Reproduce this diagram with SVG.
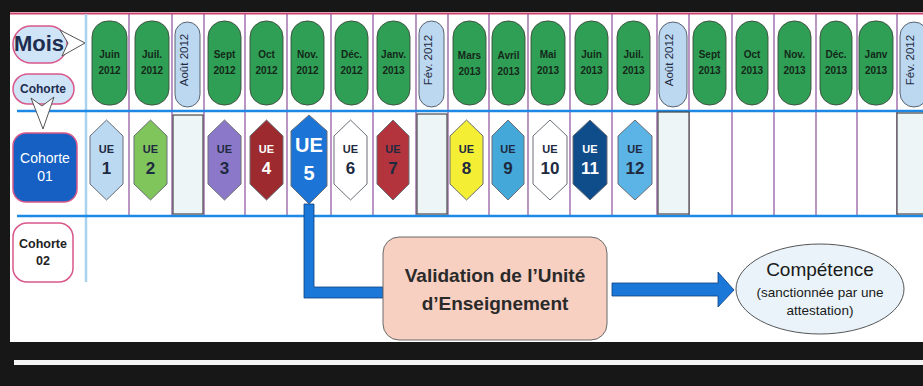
<svg xmlns="http://www.w3.org/2000/svg" width="923" height="386" viewBox="0 0 923 386">
<style>
.pill{fill:#2f9f55;stroke:#3d4a3d;stroke-width:0.9}
.bpill{fill:#bcd8f1;stroke:#4a5260;stroke-width:0.9}
.mt{font-family:"Liberation Sans",Arial,sans-serif;font-weight:bold;font-size:10px;fill:#14281a;text-anchor:middle}
.rt{font-family:"Liberation Sans",Arial,sans-serif;font-size:11.5px;fill:#1e2a40;text-anchor:middle}
.vac{fill:#eef5f7;stroke:#4a4a4a;stroke-width:1.2}
.hex{stroke:#6a6f78;stroke-width:1}
.ue{font-family:"Liberation Sans",Arial,sans-serif;font-weight:bold;font-size:11px;text-anchor:middle;fill:#1e2a40}
.num{font-family:"Liberation Sans",Arial,sans-serif;font-weight:bold;font-size:17px;text-anchor:middle;fill:#1e2a40}
.w{fill:#ffffff}
.big{font-size:20px}
.div{stroke:#8c4f9c;stroke-width:1.2}
.hl{stroke:#1e88e5;stroke-width:2.5}
.lab{fill:#cfe4f6;stroke:#d9578a;stroke-width:1.5}
.blue{fill:#1b78d8;stroke:#0d3f80;stroke-width:0.8}
</style>
<rect x="0" y="0" width="923" height="386" fill="#171717"/>
<rect x="10" y="12" width="913" height="330" fill="#ffffff"/>
<rect x="14" y="360" width="909" height="5" fill="#f4f4f4"/>
<g id="grid">
<line x1="10" y1="13.5" x2="923" y2="13.5" stroke="#c8466e" stroke-width="2"/>
<line x1="86" y1="14" x2="86" y2="282" stroke="#a8d2f0" stroke-width="2.5"/>
<g class="div">
<line x1="129" y1="14" x2="129" y2="216"/><line x1="172" y1="14" x2="172" y2="216"/><line x1="204" y1="14" x2="204" y2="216"/><line x1="245" y1="14" x2="245" y2="216"/><line x1="287" y1="14" x2="287" y2="216"/><line x1="331" y1="14" x2="331" y2="216"/><line x1="373" y1="14" x2="373" y2="216"/><line x1="416" y1="14" x2="416" y2="216"/><line x1="448" y1="14" x2="448" y2="216"/><line x1="489" y1="14" x2="489" y2="216"/><line x1="528" y1="14" x2="528" y2="216"/><line x1="570" y1="14" x2="570" y2="216"/><line x1="612" y1="14" x2="612" y2="216"/><line x1="657" y1="14" x2="657" y2="216"/><line x1="689" y1="14" x2="689" y2="216"/><line x1="732" y1="14" x2="732" y2="216"/><line x1="774" y1="14" x2="774" y2="216"/><line x1="816" y1="14" x2="816" y2="216"/><line x1="857" y1="14" x2="857" y2="216"/><line x1="897" y1="14" x2="897" y2="216"/>
</g>
<line class="hl" x1="17" y1="111" x2="923" y2="111"/>
<line class="hl" x1="17" y1="216" x2="923" y2="216"/>
</g>
<g id="mois">
<rect class="lab" x="13" y="26" width="54" height="37" rx="18"/>
<polygon points="60,30 85,43 62,56 68,43" fill="#ffffff" stroke="#555" stroke-width="1"/>
<text x="39" y="51" font-family="Liberation Sans,Arial,sans-serif" font-weight="bold" font-size="22" fill="#1e2d50" text-anchor="middle">Mois</text>
</g>
<g id="cohorte-label">
<rect class="lab" x="13" y="74" width="61" height="30" rx="15"/>
<polygon points="31,98 42,106 54,97 43,129" fill="#ffffff" stroke="#555" stroke-width="1"/>
<text x="43" y="93" font-family="Liberation Sans,Arial,sans-serif" font-weight="bold" font-size="12" fill="#1e2d50" text-anchor="middle">Cohorte</text>
</g>
<g id="cohorte01">
<rect x="13" y="133" width="64" height="69" rx="13" fill="#1560c2" stroke="#d9578a" stroke-width="1.5"/>
<text x="45" y="163" font-family="Liberation Sans,Arial,sans-serif" font-size="14" fill="#ffffff" text-anchor="middle">Cohorte</text>
<text x="45" y="181" font-family="Liberation Sans,Arial,sans-serif" font-size="14" fill="#ffffff" text-anchor="middle">01</text>
</g>
<g id="cohorte02">
<rect x="13" y="223" width="60" height="59" rx="14" fill="#ffffff" stroke="#d9578a" stroke-width="1.5"/>
<text x="43" y="248" font-family="Liberation Sans,Arial,sans-serif" font-weight="bold" font-size="12.5" fill="#222" text-anchor="middle">Cohorte</text>
<text x="43" y="265" font-family="Liberation Sans,Arial,sans-serif" font-weight="bold" font-size="12.5" fill="#222" text-anchor="middle">02</text>
</g>
<g id="months">
<g id="m-juin2012"><rect class="pill" x="92" y="21" width="35" height="84" rx="16"/><text class="mt" x="109.5" y="58">Juin</text><text class="mt" x="109.5" y="74">2012</text></g>
<g id="m-juil2012"><rect class="pill" x="135" y="21" width="34" height="84" rx="16"/><text class="mt" x="152" y="58">Juil.</text><text class="mt" x="152" y="74">2012</text></g>
<g id="m-aout2012"><rect class="bpill" x="175" y="22" width="25" height="85" rx="12.5"/><text class="rt" x="191.5" y="64" transform="rotate(-90 187.5 64)">Août 2012</text></g>
<g id="m-sept2012"><rect class="pill" x="208" y="21" width="33" height="84" rx="16"/><text class="mt" x="224.5" y="58">Sept</text><text class="mt" x="224.5" y="74">2012</text></g>
<g id="m-oct2012"><rect class="pill" x="250" y="21" width="33" height="84" rx="16"/><text class="mt" x="266.5" y="58">Oct</text><text class="mt" x="266.5" y="74">2012</text></g>
<g id="m-nov2012"><rect class="pill" x="291" y="21" width="33" height="84" rx="16"/><text class="mt" x="307.5" y="58">Nov.</text><text class="mt" x="307.5" y="74">2012</text></g>
<g id="m-dec2012"><rect class="pill" x="335" y="21" width="33" height="84" rx="16"/><text class="mt" x="351.5" y="58">Déc.</text><text class="mt" x="351.5" y="74">2012</text></g>
<g id="m-janv2013"><rect class="pill" x="377" y="21" width="33" height="84" rx="16"/><text class="mt" x="393.5" y="58">Janv.</text><text class="mt" x="393.5" y="74">2013</text></g>
<g id="m-fev2012"><rect class="bpill" x="419" y="21" width="25" height="86" rx="12.5"/><text class="rt" x="435.5" y="64" transform="rotate(-90 431.5 64)">Fév. 2012</text></g>
<g id="m-mars2013"><rect class="pill" x="453" y="21" width="33" height="84" rx="16"/><text class="mt" x="469.5" y="59">Mars</text><text class="mt" x="469.5" y="75">2013</text></g>
<g id="m-avril2013"><rect class="pill" x="492" y="21" width="33" height="84" rx="16"/><text class="mt" x="508.5" y="59">Avril</text><text class="mt" x="508.5" y="75">2013</text></g>
<g id="m-mai2013"><rect class="pill" x="531" y="21" width="34" height="84" rx="16"/><text class="mt" x="548" y="58">Mai</text><text class="mt" x="548" y="74">2013</text></g>
<g id="m-juin2013"><rect class="pill" x="575" y="21" width="33" height="84" rx="16"/><text class="mt" x="591.5" y="58">Juin</text><text class="mt" x="591.5" y="74">2013</text></g>
<g id="m-juil2013"><rect class="pill" x="617" y="21" width="33" height="84" rx="16"/><text class="mt" x="633.5" y="58">Juil.</text><text class="mt" x="633.5" y="74">2013</text></g>
<g id="m-aout2012b"><rect class="bpill" x="659" y="22" width="28" height="85" rx="14"/><text class="rt" x="677" y="64" transform="rotate(-90 673 64)">Août 2012</text></g>
<g id="m-sept2013"><rect class="pill" x="693" y="21" width="33" height="84" rx="16"/><text class="mt" x="709.5" y="58">Sept</text><text class="mt" x="709.5" y="74">2013</text></g>
<g id="m-oct2013"><rect class="pill" x="736" y="21" width="32" height="84" rx="16"/><text class="mt" x="752" y="58">Oct</text><text class="mt" x="752" y="74">2013</text></g>
<g id="m-nov2013"><rect class="pill" x="778" y="21" width="33" height="84" rx="16"/><text class="mt" x="794.5" y="58">Nov.</text><text class="mt" x="794.5" y="74">2013</text></g>
<g id="m-dec2013"><rect class="pill" x="820" y="21" width="32" height="84" rx="16"/><text class="mt" x="836" y="58">Déc.</text><text class="mt" x="836" y="74">2013</text></g>
<g id="m-janv2013b"><rect class="pill" x="859" y="21" width="34" height="84" rx="16"/><text class="mt" x="876" y="58">Janv</text><text class="mt" x="876" y="74">2013</text></g>
<g id="m-fev2012b"><rect class="bpill" x="900" y="22" width="28" height="85" rx="14"/><text class="rt" x="918" y="64" transform="rotate(-90 914 64)">Fév. 2012</text></g>
</g>
<g id="vacations">
<rect class="vac" x="173" y="115" width="30" height="99"/>
<rect class="vac" x="417" y="114" width="30" height="100"/>
<rect class="vac" x="658" y="112" width="31" height="102"/>
<rect class="vac" x="897" y="113" width="34" height="101"/>
</g>
<g id="ue">
<g id="ue1"><polygon class="hex" fill="#bcd9f2" points="106.5,120 123,136 123,184 106.5,200 90,184 90,136"/><text class="ue" x="106.5" y="153">UE</text><text class="num" x="106.5" y="174">1</text></g>
<g id="ue2"><polygon class="hex" fill="#80c45c" points="150.5,120 167,136 167,184 150.5,200 134,184 134,136"/><text class="ue" x="150.5" y="153">UE</text><text class="num" x="150.5" y="174">2</text></g>
<g id="ue3"><polygon class="hex" fill="#8b78c9" points="224.5,120 241,136 241,184 224.5,200 208,184 208,136"/><text class="ue" x="224.5" y="153">UE</text><text class="num" x="224.5" y="174">3</text></g>
<g id="ue4"><polygon class="hex" fill="#9c2a2e" points="266.5,120 283,136 283,184 266.5,200 250,184 250,136"/><text class="ue w" x="266.5" y="153">UE</text><text class="num w" x="266.5" y="174">4</text></g>
<g id="ue5"><polygon class="hex" fill="#1b74d6" points="309,115 327,131 327,186 309,204 291,186 291,131"/><text class="ue w big" x="309" y="152">UE</text><text class="num w big" x="309" y="180">5</text></g>
<g id="ue6"><polygon class="hex" fill="#ffffff" points="350.5,120 367,136 367,184 350.5,200 334,184 334,136"/><text class="ue" x="350.5" y="153">UE</text><text class="num" x="350.5" y="174">6</text></g>
<g id="ue7"><polygon class="hex" fill="#b3343c" points="393,120 409,136 409,184 393,200 377,184 377,136"/><text class="ue" x="393" y="153">UE</text><text class="num" x="393" y="174">7</text></g>
<g id="ue8"><polygon class="hex" fill="#f4ee35" points="466.5,120 483,136 483,184 466.5,200 450,184 450,136"/><text class="ue" x="466.5" y="153">UE</text><text class="num" x="466.5" y="174">8</text></g>
<g id="ue9"><polygon class="hex" fill="#44a9d9" points="508,120 524,136 524,184 508,200 492,184 492,136"/><text class="ue" x="508" y="153">UE</text><text class="num" x="508" y="174">9</text></g>
<g id="ue10"><polygon class="hex" fill="#ffffff" points="550,120 567,136 567,184 550,200 533,184 533,136"/><text class="ue" x="550" y="153">UE</text><text class="num" x="550" y="174">10</text></g>
<g id="ue11"><polygon class="hex" fill="#0f4d8a" points="590,120 607,136 607,184 590,200 573,184 573,136"/><text class="ue w" x="590" y="153">UE</text><text class="num w" x="590" y="174">11</text></g>
<g id="ue12"><polygon class="hex" fill="#5bb3e6" points="635,120 652,136 652,184 635,200 618,184 618,136"/><text class="ue" x="635" y="153">UE</text><text class="num" x="635" y="174">12</text></g>
</g>
<g id="connectors">
<polygon class="blue" points="304,204 314,204 314,287 383,287 383,298 304,298"/>
<polygon class="blue" points="612,283 718,283 718,272 734,290 718,307 718,296 612,296"/>
</g>
<g id="validation">
<rect x="383" y="237" width="224" height="103" rx="16" fill="#f7d0c2" stroke="#6a6a6a" stroke-width="1"/>
<text x="495" y="282" font-family="Liberation Sans,Arial,sans-serif" font-weight="bold" font-size="19" fill="#2a2a2a" text-anchor="middle">Validation de l’Unité</text>
<text x="495" y="310" font-family="Liberation Sans,Arial,sans-serif" font-weight="bold" font-size="19" fill="#2a2a2a" text-anchor="middle">d’Enseignement</text>
</g>
<g id="competence">
<ellipse cx="820" cy="289" rx="84" ry="45" fill="#e9f3f9" stroke="#555" stroke-width="1"/>
<text x="820" y="276" font-family="Liberation Sans,Arial,sans-serif" font-size="19" fill="#1a1a1a" text-anchor="middle">Compétence</text>
<text x="820" y="297" font-family="Liberation Sans,Arial,sans-serif" font-size="13.5" fill="#1a1a1a" text-anchor="middle">(sanctionnée par une</text>
<text x="820" y="315" font-family="Liberation Sans,Arial,sans-serif" font-size="13.5" fill="#1a1a1a" text-anchor="middle">attestation)</text>
</g>
</svg>
